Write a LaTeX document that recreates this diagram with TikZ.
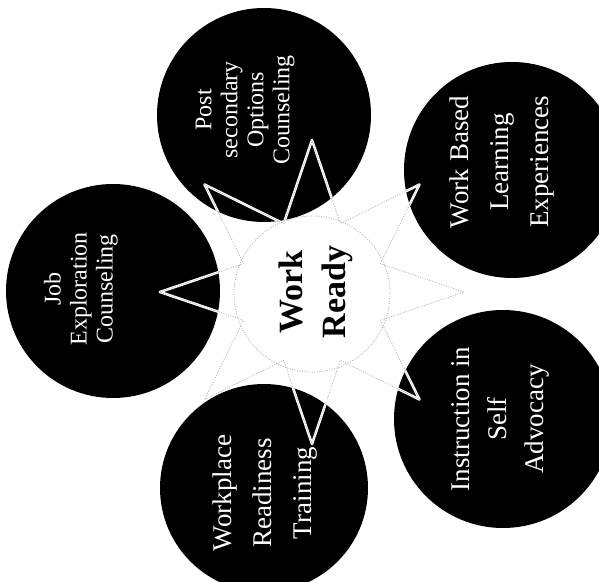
\documentclass[tikz,border=0pt]{standalone}
\usepackage{fontspec}
\setmainfont{Liberation Serif}

\tikzset{
  bubble/.style={circle, fill=black, inner sep=0pt},
  bubbletext/.style={text=white, rotate=90, align=center},
  smalltext/.style={font=\fontsize{24}{26}\selectfont},
  bigtext/.style={font=\fontsize{27}{40}\selectfont},
  faintedge/.style={gray!60, line width=0.8pt, dash pattern=on 1pt off 1.5pt}
}

% eight pointed star round the middle
\newcommand{\workstar}{(90:152) \foreach \k in {0,...,7} { -- ({112.5+45*\k}:74) -- ({135+45*\k}:152) } -- cycle}

\begin{document}
\begin{tikzpicture}[x=1pt, y=1pt]
\clip (0,0) rectangle (599,581);
\fill[white] (0,0) rectangle (599,581);

% Star behind the circles
\begin{scope}[shift={(312,289)}]
\draw[faintedge] \workstar;
\end{scope}

% Circles
\node[bubble, minimum size=214pt] (postc) at (264,466) {};
\node[bubble, minimum size=216pt] (basedc) at (512,411) {};
\node[bubble, minimum size=218pt] (selfc) at (503,162) {};
\node[bubble, minimum size=208pt] (readyc) at (264,93) {};
\node[bubble, minimum size=214pt] (jobc) at (113,290) {};

% Star points seen inside the circles
\begin{scope}
\clip (postc.center) circle (107) (basedc.center) circle (108)
      (selfc.center) circle (109) (readyc.center) circle (104)
      (jobc.center) circle (107);
\begin{scope}[shift={(312,289)}]
\draw[white, line width=2.6pt, line join=round] \workstar;
\draw[gray!70, line width=0.6pt, dash pattern=on 1pt off 1.2pt] \workstar;
\end{scope}
\end{scope}

% Middle
\draw[faintedge] (312,287) circle (78);
\node[rotate=90, align=center, font=\bfseries\fontsize{34}{43}\selectfont] (middle) at (316,289) {Work\\Ready};

% Labels
\node[bubbletext, smalltext] (postt) at (245,471) {Post\\secondary\\Options\\Counseling};
\node[bubbletext, bigtext] (basedt) at (502,419) {Work Based\\Learning\\Experiences};
\node[bubbletext, font=\fontsize{27}{37}\selectfont] (selft) at (500,162) {Instruction in\\Self\\Advocacy};
\node[bubbletext, bigtext] (readyt) at (265,88) {Workplace\\Readiness\\Training};
\node[bubbletext, smalltext] (jobt) at (81,292) {Job\\Exploration\\Counseling};
\end{tikzpicture}
\end{document}
